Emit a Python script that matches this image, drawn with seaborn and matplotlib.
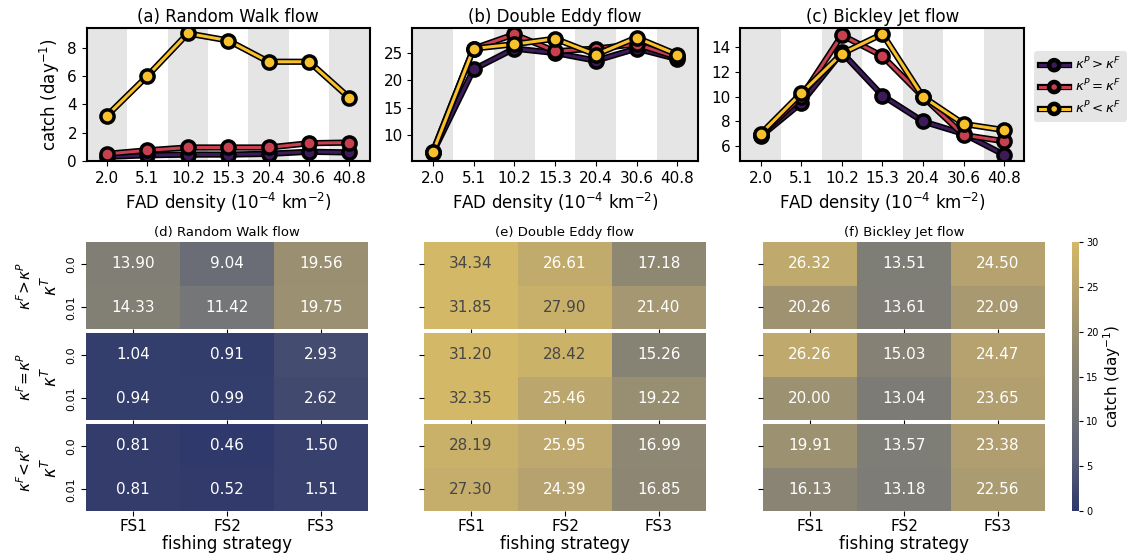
import numpy as np
import pandas as pd
import matplotlib
matplotlib.use("Agg")
import matplotlib.pyplot as plt
import matplotlib.patheffects as pe
from matplotlib.colors import LinearSegmentedColormap
import seaborn as sns

# --- data ---
densities = ["2.0", "5.1", "10.2", "15.3", "20.4", "30.6", "40.8"]
scenario_labels = [r"$\kappa^P > \kappa^F$", r"$\kappa^P = \kappa^F$", r"$\kappa^P < \kappa^F$"]
scenario_colors = ["#3d1b5b", "#c83f50", "#f8c12c"]

rw_greater = [0.30, 0.40, 0.45, 0.45, 0.50, 0.65, 0.60]
rw_equal = [0.50, 0.75, 0.95, 0.95, 0.95, 1.25, 1.30]
rw_less = [3.20, 6.00, 9.00, 8.50, 7.00, 7.00, 4.45]

de_greater = [6.8, 22.0, 25.8, 25.0, 23.6, 25.8, 23.9]
de_equal = [7.0, 25.8, 28.4, 25.3, 25.8, 26.6, 24.2]
de_less = [6.9, 25.8, 26.6, 27.6, 24.7, 27.8, 24.7]

bj_greater = [6.8, 9.5, 13.6, 10.1, 8.0, 7.0, 5.3]
bj_equal = [6.9, 10.0, 15.0, 13.3, 10.0, 6.9, 6.4]
bj_less = [7.0, 10.3, 13.5, 15.1, 10.0, 7.8, 7.3]

strategies = ["FS1", "FS2", "FS3"]
kappa_t = ["0.0", "0.01"]
block_labels = [r"$\kappa^F\!>\!\kappa^P$", r"$\kappa^F\!=\!\kappa^P$", r"$\kappa^F\!<\!\kappa^P$"]

rw_heat_greater = [[13.90, 9.04, 19.56], [14.33, 11.42, 19.75]]
rw_heat_equal = [[1.04, 0.91, 2.93], [0.94, 0.99, 2.62]]
rw_heat_less = [[0.81, 0.46, 1.50], [0.81, 0.52, 1.51]]

de_heat_greater = [[34.34, 26.61, 17.18], [31.85, 27.90, 21.40]]
de_heat_equal = [[31.20, 28.42, 15.26], [32.35, 25.46, 19.22]]
de_heat_less = [[28.19, 25.95, 16.99], [27.30, 24.39, 16.85]]

bj_heat_greater = [[26.32, 13.51, 24.50], [20.26, 13.61, 22.09]]
bj_heat_equal = [[26.26, 15.03, 24.47], [20.00, 13.04, 23.65]]
bj_heat_less = [[19.91, 13.57, 23.38], [16.13, 13.18, 22.56]]

plt.rcParams["font.family"] = ["DejaVu Sans"]

fig = plt.figure(figsize=(11.27, 5.55), dpi=100)

# --- top row: line plots ---
line_panels = [
    ("(a) Random Walk flow", [rw_greater, rw_equal, rw_less], (0, 9.4), [0, 2, 4, 6, 8]),
    ("(b) Double Eddy flow", [de_greater, de_equal, de_less], (5.3, 29.6), [10, 15, 20, 25]),
    ("(c) Bickley Jet flow", [bj_greater, bj_equal, bj_less], (4.8, 15.6), [6, 8, 10, 12, 14]),
]
top_rects = [
    [0.077, 0.710, 0.251, 0.240],
    [0.366, 0.710, 0.253, 0.240],
    [0.657, 0.710, 0.252, 0.240],
]

outline = [pe.Stroke(linewidth=4.5, foreground="k"), pe.Normal()]

line_axes = []
for (title, series, ylim, yticks), rect in zip(line_panels, top_rects):
    ax = fig.add_axes(rect)
    for i in range(len(densities)):
        if i % 2 == 0:
            ax.axvspan(i - 0.5, i + 0.5, color="#e5e5e5", zorder=0, lw=0)
    for vals, lab, col in zip(series, scenario_labels, scenario_colors):
        df = pd.DataFrame({"density": densities, "catch": vals})
        # black casing under the coloured line
        sns.lineplot(data=df, x="density", y="catch", sort=False, ax=ax,
                     color="k", lw=4.5, legend=False)
        sns.lineplot(data=df, x="density", y="catch", sort=False, ax=ax,
                     color=col, label=lab, lw=2.2, marker="o", markersize=9.5,
                     markeredgecolor="k", markeredgewidth=2.5)
    ax.set_xlim(-0.5, len(densities) - 0.5)
    ax.set_ylim(*ylim)
    ax.set_yticks(yticks)
    ax.set_title(title, fontsize=12, pad=4)
    ax.set_xlabel(r"FAD density ($10^{-4}$ km$^{-2}$)", fontsize=12)
    ax.set_ylabel("")
    ax.tick_params(labelsize=11)
    for s in ax.spines.values():
        s.set_linewidth(1.5)
    ax.get_legend().remove()
    line_axes.append(ax)

line_axes[0].set_ylabel(r"catch (day$^{-1}$)", fontsize=12)
handles, labels = line_axes[2].get_legend_handles_labels()
leg = line_axes[2].legend(handles, labels, loc="center left", bbox_to_anchor=(1.035, 0.56),
                          fontsize=9.5, facecolor="#e5e5e5", edgecolor="none",
                          framealpha=1, handlelength=2.2, handletextpad=0.5,
                          borderpad=0.4, labelspacing=0.4, borderaxespad=0)
for h in leg.legend_handles:
    h.set_markersize(6)
    h.set_markeredgewidth(2)
    h.set_path_effects(outline)

# --- bottom row: heatmaps ---
cmap = LinearSegmentedColormap.from_list(
    "muted_cividis",
    ["#2d376a", "#5c6175", "#787877", "#918a72", "#b3a070", "#d3b867"])

heat_panels = [
    ("(d) Random Walk flow", [rw_heat_greater, rw_heat_equal, rw_heat_less], 0.0763),
    ("(e) Double Eddy flow", [de_heat_greater, de_heat_equal, de_heat_less], 0.3762),
    ("(f) Bickley Jet flow", [bj_heat_greater, bj_heat_equal, bj_heat_less], 0.677),
]
block_bottoms = [0.407, 0.243, 0.079]
block_height = 0.157
heat_width = 0.2502

for p, (title, blocks, left) in enumerate(heat_panels):
    for b, (vals, bottom) in enumerate(zip(blocks, block_bottoms)):
        ax = fig.add_axes([left, bottom, heat_width, block_height])
        hm = pd.DataFrame(vals, index=kappa_t, columns=strategies)
        sns.heatmap(hm, ax=ax, cmap=cmap, vmin=0, vmax=30, cbar=False,
                    annot=True, fmt=".2f", annot_kws={"fontsize": 11})
        for t in ax.texts:
            t.set_color("#474747" if float(t.get_text()) >= 27 else "white")
        ax.tick_params(axis="y", labelsize=8, length=3.5)
        ax.tick_params(axis="x", labelsize=11, length=3.5, pad=2)
        if p == 0:
            ax.set_yticklabels(kappa_t, rotation=90, va="center")
            ax.set_ylabel(r"$\kappa^T$", fontsize=12, labelpad=4)
            fig.text(0.022, bottom + block_height / 2, block_labels[b],
                     rotation=90, ha="center", va="center", fontsize=11)
        else:
            ax.set_yticklabels([])
            ax.set_ylabel("")
        if b < 2:
            ax.set_xticklabels([])
            ax.set_xlabel("")
        else:
            ax.set_xticklabels(strategies, rotation=0)
            ax.set_xlabel("fishing strategy", fontsize=12, labelpad=1)
        if b == 0:
            ax.set_title(title, fontsize=9.5, pad=4)

# colorbar
cax = fig.add_axes([0.951, 0.079, 0.0065, 0.485])
sm = plt.cm.ScalarMappable(cmap=cmap, norm=plt.Normalize(0, 30))
cb = fig.colorbar(sm, cax=cax, ticks=[0, 5, 10, 15, 20, 25, 30])
cb.outline.set_visible(False)
cb.ax.tick_params(labelsize=7, length=3, pad=2)
cb.set_label(r"catch (day$^{-1}$)", fontsize=11, labelpad=2)

fig.savefig("out.png", dpi=100)
